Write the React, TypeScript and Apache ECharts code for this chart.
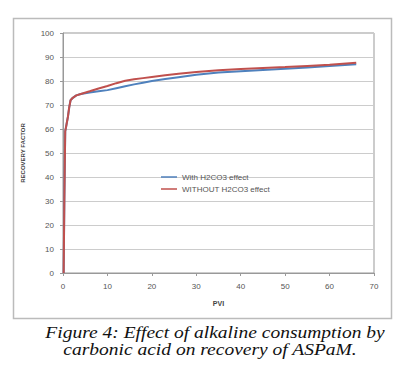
import React, { useEffect, useRef } from "react";
import * as echarts from "echarts";

const pvi = [0.15, 0.3, 0.5, 0.8, 1.1, 1.4, 1.7, 2.2, 3, 4, 6, 8, 10, 12, 14, 16, 18, 20, 23, 26, 30, 35, 40, 45, 50, 55, 60, 66];
const withH2CO3 = [0, 30, 59, 62, 65, 69, 72, 73, 74, 74.6, 75.2, 75.7, 76.2, 77, 77.8, 78.6, 79.3, 80, 80.8, 81.6, 82.6, 83.5, 84.1, 84.6, 85.1, 85.6, 86.2, 87];
const withoutH2CO3 = [0, 30, 59, 62, 65, 69, 72, 73, 74, 74.6, 75.7, 76.9, 77.9, 79.1, 80.1, 80.7, 81.2, 81.7, 82.4, 83, 83.7, 84.5, 85, 85.4, 85.8, 86.3, 86.8, 87.6];
const seriesNames = ["With H2CO3 effect", "WITHOUT H2CO3 effect"];
const captionLines = ["Figure 4: Effect of alkaline consumption by", "carbonic acid on recovery of ASPaM."];

export default function App() {
  const ref = useRef<HTMLDivElement>(null);
  useEffect(() => {
    document.body.style.margin = "0";
    const chart = echarts.init(ref.current!, null, { renderer: "svg" });
    const labelStyle = { color: "#555", fontSize: 8, fontFamily: "Liberation Sans" };
    chart.setOption({
      animation: false,
      backgroundColor: "#fff",
      grid: { left: 63, right: 35, top: 33, bottom: 108, show: true, borderColor: "#999", borderWidth: 1, backgroundColor: "#fff" },
      xAxis: {
        type: "value", min: 0, max: 70, interval: 10,
        name: "PVI", nameLocation: "middle", nameGap: 27,
        nameTextStyle: { fontSize: 7, fontWeight: "bold", color: "#444", fontFamily: "Liberation Sans" },
        axisLine: { lineStyle: { color: "#999" } },
        axisTick: { show: true, length: 3, lineStyle: { color: "#999" } },
        axisLabel: { ...labelStyle, margin: 9 },
        splitLine: { show: false },
      },
      yAxis: {
        type: "value", min: 0, max: 100, interval: 10,
        name: "RECOVERY FACTOR", nameLocation: "middle", nameGap: 37, nameRotate: 90,
        nameTextStyle: { fontSize: 6, fontWeight: "bold", color: "#444", fontFamily: "Liberation Sans" },
        axisLine: { show: true, lineStyle: { color: "#999" } },
        axisTick: { show: true, length: 3, lineStyle: { color: "#999" } },
        axisLabel: { ...labelStyle, margin: 9 },
        splitLine: { lineStyle: { color: "#ccc" } },
      },
      legend: {
        left: 156, top: 168, orient: "vertical", itemGap: 4,
        icon: "rect", itemWidth: 16, itemHeight: 1.5,
        textStyle: { fontSize: 8, color: "#555", fontFamily: "Liberation Sans" },
        data: seriesNames,
      },
      series: [
        { name: seriesNames[0], type: "line", showSymbol: false, symbol: "none", smooth: false, lineStyle: { width: 2, color: "#4F81BD" }, itemStyle: { color: "#4F81BD" }, data: pvi.map((x, i) => [x, withH2CO3[i]]) },
        { name: seriesNames[1], type: "line", showSymbol: false, symbol: "none", smooth: false, lineStyle: { width: 2, color: "#C0504D" }, itemStyle: { color: "#C0504D" }, data: pvi.map((x, i) => [x, withoutH2CO3[i]]) },
      ],
      graphic: [
        { type: "rect", left: 11, top: 16, shape: { width: 378, height: 300 }, style: { fill: "none", stroke: "#bbb", lineWidth: 1.5 }, z: -1 },
        { type: "text", x: 215, y: 333, scaleX: 1.22, style: { text: captionLines[0], font: "italic 16px 'Liberation Serif'", fill: "#111", textAlign: "center", textVerticalAlign: "middle" } },
        { type: "text", x: 210, y: 350, scaleX: 1.22, style: { text: captionLines[1], font: "italic 16px 'Liberation Serif'", fill: "#111", textAlign: "center", textVerticalAlign: "middle" } },
      ],
    });
    return () => chart.dispose();
  }, []);
  return <div ref={ref} style={{ width: 409, height: 381 }} />;
}
